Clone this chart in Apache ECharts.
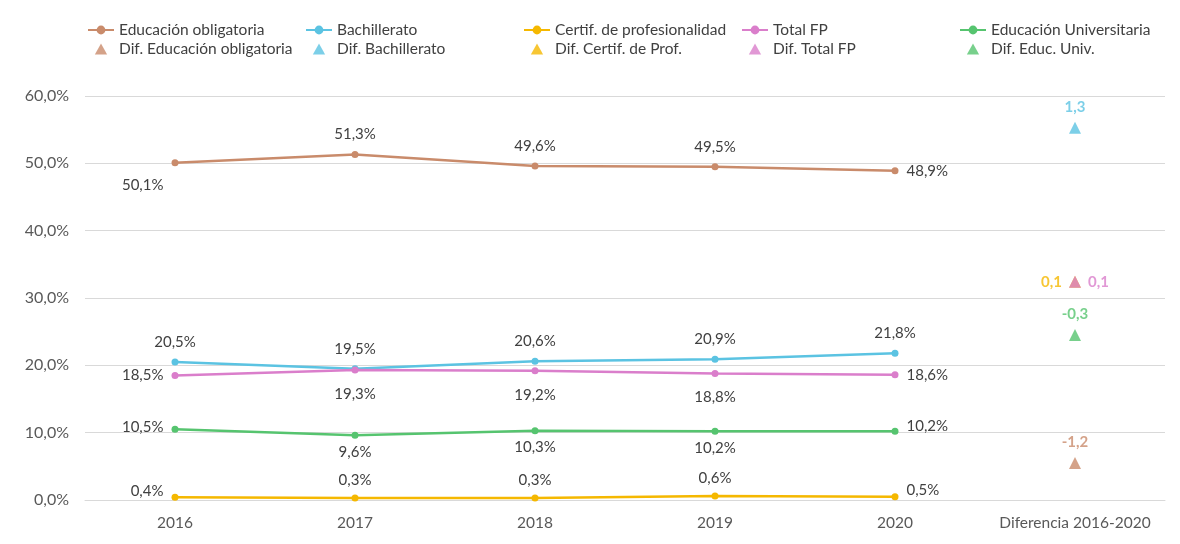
<!DOCTYPE html>
<html><head><meta charset="utf-8">
<script src="https://cdn.jsdelivr.net/npm/echarts@6/dist/echarts.min.js"></script>
<style>html,body{margin:0;padding:0;background:#fff}#c{width:1180px;height:544px}</style>
</head><body><div id="c"></div>
<script>
const categories = ['2016','2017','2018','2019','2020','Diferencia 2016-2020'];
const seriesNames = ['Educación obligatoria','Bachillerato','Certif. de profesionalidad','Total FP','Educación Universitaria'];
const difNames = ['Dif. Educación obligatoria','Dif. Bachillerato','Dif. Certif. de Prof.','Dif. Total FP','Dif. Educ. Univ.'];
const eduOblig = [50.1, 51.3, 49.6, 49.5, 48.9];
const bachillerato = [20.5, 19.5, 20.6, 20.9, 21.8];
const certif = [0.4, 0.3, 0.3, 0.6, 0.5];
const totalFP = [18.5, 19.3, 19.2, 18.8, 18.6];
const univ = [10.5, 9.6, 10.3, 10.2, 10.2];
const difValues = [-1.2, 1.3, 0.1, 0.1, -0.3];
const difPlotPos = [5.5, 55.3, 32.4, 32.4, 24.5];
const yTicks = [0, 10, 20, 30, 40, 50, 60];
const colors = ['#C98B6B', '#5BC3E2', '#F5B800', '#DA7ECB', '#56C46F'];

const FONT = 'Lato';
const fmtPct = v => v.toFixed(1).replace('.', ',') + '%';
const fmtDif = v => v.toFixed(1).replace('.', ',');

// label placement per point: [position, offsetX, offsetY, distance]
const labelPos = [
  [['left',0,22,8],['top',0,0,9],['top',0,0,9],['top',0,0,9],['right',0,0,8]],
  [['top',0,0,9],['top',0,0,9],['top',0,0,9],['top',0,0,9],['top',0,0,9]],
  [['left',0,-6,8],['top',0,0,7],['top',0,0,7],['top',0,0,7],['right',0,-6,8]],
  [['left',0,0,8],['bottom',0,0,13],['bottom',0,0,13],['bottom',0,0,13],['right',0,0,8]],
  [['left',0,-2,8],['bottom',0,0,6],['bottom',0,0,6],['bottom',0,0,6],['right',0,-5,8]]
];
const allVals = [eduOblig, bachillerato, certif, totalFP, univ];

function mkData(vals, idx) {
  const d = vals.map((v, i) => {
    const p = labelPos[idx][i];
    return { value: v, label: { show: true, position: p[0], offset: [p[1], p[2]], distance: p[3] } };
  });
  d.push(null);
  return d;
}

const series = [];
allVals.forEach((vals, i) => {
  series.push({
    name: seriesNames[i], type: 'line', data: mkData(vals, i),
    symbol: 'circle', symbolSize: 7, lineStyle: { width: 2.5, color: colors[i] },
    itemStyle: { color: colors[i] }, z: 3 + i,
    label: { color: '#404040', fontSize: 15, fontFamily: FONT, formatter: p => fmtPct(p.value) }
  });
});
const difLabelPos = ['top', 'top', 'left', 'right', 'top'];
difValues.forEach((v, i) => {
  const data = categories.map((c, j) => j === 5 ? difPlotPos[i] : null);
  series.push({
    name: difNames[i], type: 'scatter', data: data,
    symbol: 'triangle', symbolSize: 12, itemStyle: { color: colors[i] }, z: i === 2 ? 2 : 5,
    label: { show: true, position: difLabelPos[i], distance: 7, color: colors[i], fontSize: 15,
             fontWeight: 'bold', fontFamily: FONT, formatter: () => fmtDif(v) }
  });
});

const TRI = 'path://M5,0 L10,9 L0,9 Z';
const legendLefts = [87, 305, 523, 741, 959];
const legends = legendLefts.map((l, i) => ({
  left: l, top: 22, padding: 0, orient: 'vertical', itemWidth: 26, itemHeight: 11, itemGap: 3,
  symbolKeepAspect: true,
  data: [seriesNames[i], { name: difNames[i], icon: TRI, itemStyle: { color: colors[i] } }],
  textStyle: { color: '#404040', fontSize: 15.5, fontFamily: FONT },
  selectedMode: false
}));

const chart = echarts.init(document.getElementById('c'));
chart.setOption({
  animation: false,
  textStyle: { fontFamily: FONT },
  legend: legends,
  grid: { left: 85, right: 15, top: 96, bottom: 44, containLabel: false },
  xAxis: {
    type: 'category', data: categories, boundaryGap: true,
    axisLine: { show: true, lineStyle: { color: '#D9D9D9' } }, axisTick: { show: false },
    axisLabel: { color: '#595959', fontSize: 15.5, fontFamily: FONT, margin: 15, interval: 0 }
  },
  yAxis: {
    type: 'value', min: yTicks[0], max: yTicks[yTicks.length - 1], interval: 10,
    axisLine: { show: false }, axisTick: { show: false },
    splitLine: { lineStyle: { color: '#D9D9D9', width: 1 } },
    axisLabel: { color: '#595959', fontSize: 16, fontFamily: FONT, margin: 16, formatter: v => fmtPct(v) }
  },
  series: series
});
</script></body></html>
